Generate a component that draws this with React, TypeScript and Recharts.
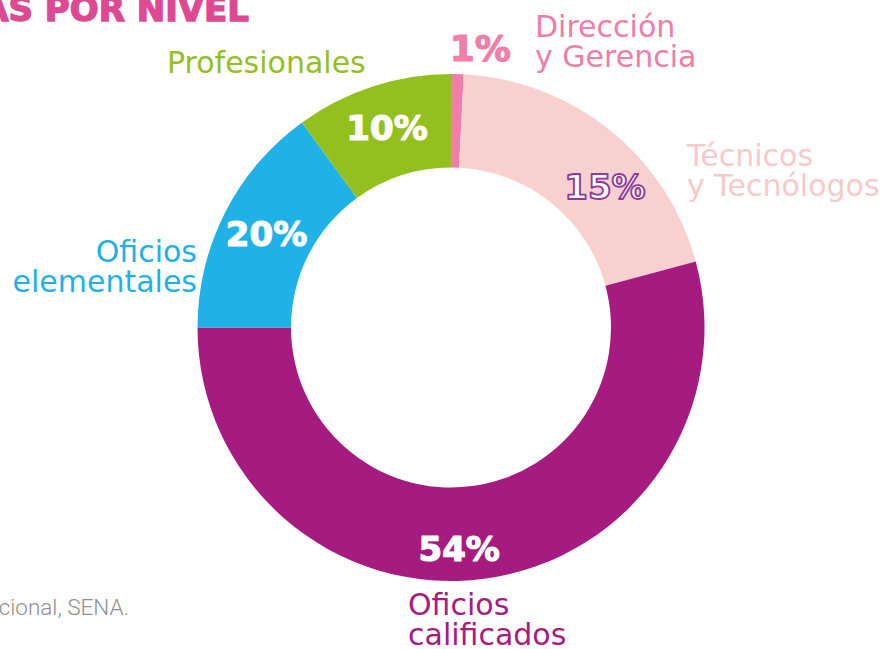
import { PieChart, Pie, Cell } from 'recharts'

// slice order: clockwise from 12 o'clock
const categories = ['Dirección y Gerencia', 'Técnicos y Tecnólogos', 'Oficios calificados', 'Oficios elementales', 'Profesionales']
// share of the ring as drawn in the source
const shares = [0.8, 20, 54.2, 15, 10]
// percentages as printed on the slices
const pctLabels = ['1%', '15%', '54%', '20%', '10%']
const colors = ['#EF7FA9', '#F8D0D0', '#A61B80', '#20B2E7', '#93C01F']

const data = categories.map((name, i) => ({ name, value: shares[i] }))

const CX = 451
const CY = 327.5
const PCT_FONT = '"DejaVu Sans", Inter, sans-serif'
const TXT_FONT = '"DejaVu Sans", "Open Sans", sans-serif'

// nudges from the mid-angle anchor, per slice
const PCT_NUDGE: [number, number][] = [
  [24, -72],
  [24, 21],
  [-19, 16],
  [0, 0],
  [0, -3],
]

const renderPct = (props: any) => {
  const { cx, cy, midAngle, index } = props
  const rad = (midAngle * Math.PI) / 180
  const r = 207
  const x = cx + r * Math.cos(rad) + PCT_NUDGE[index][0]
  const y = cy - r * Math.sin(rad) + PCT_NUDGE[index][1] + 12
  const outlined = index === 1
  const outside = index === 0
  const fill = outside ? colors[0] : '#fff'
  return (
    <text
      key={`pct-${index}`}
      x={x}
      y={y}
      textAnchor="middle"
      fontFamily={PCT_FONT}
      fontWeight={700}
      fontSize={outside ? 36 : 34}
      fill={fill}
      stroke={outlined ? '#8C3A9B' : fill}
      strokeWidth={outlined ? 1.8 : 1.2}
      strokeLinejoin="round"
    >
      {pctLabels[index]}
    </text>
  )
}

// category captions, two lines each
function Caption({ x, y, lines, color, anchor = 'start' }: {
  x: number
  y: number
  lines: string[]
  color: string
  anchor?: 'start' | 'end' | 'middle'
}) {
  return (
    <text x={x} y={y} fill={color} fontFamily={TXT_FONT} fontSize={30} textAnchor={anchor}>
      {lines.map((l, i) => (
        <tspan key={i} x={x} dy={i === 0 ? 0 : 30}>{l}</tspan>
      ))}
    </text>
  )
}

export default function App() {
  return (
    <div style={{ position: 'absolute', left: 0, top: 0, width: 889, height: 649, background: '#fff', overflow: 'hidden' }}>
      <PieChart width={889} height={649} margin={{ top: 0, right: 0, bottom: 0, left: 0 }} style={{ position: 'absolute', left: 0, top: 0 }}>
        <Pie
          data={data}
          dataKey="value"
          nameKey="name"
          cx={CX}
          cy={CY}
          innerRadius={160}
          outerRadius={253.5}
          startAngle={90}
          endAngle={-270}
          paddingAngle={0}
          stroke="none"
          label={renderPct}
          labelLine={false}
          isAnimationActive={false}
        >
          {data.map((d, i) => (
            <Cell key={d.name} fill={colors[i]} />
          ))}
        </Pie>
      </PieChart>

      <svg width={889} height={649} style={{ position: 'absolute', left: 0, top: 0, pointerEvents: 'none' }}>
        <text x={249} y={21} textAnchor="end" fontFamily={PCT_FONT} fontWeight={700} fontSize={34} fill="#DD4A93" stroke="#DD4A93" strokeWidth={1.4}>
          AS POR NIVEL
        </text>
        <Caption x={535} y={37} lines={['Dirección', 'y Gerencia']} color="#EE7DA8" />
        <Caption x={687} y={166} lines={['Técnicos', 'y Tecnólogos']} color="#F6CACB" />
        <Caption x={197} y={262} lines={['Oficios', 'elementales']} color="#1FB1E6" anchor="end" />
        <Caption x={167} y={73} lines={['Profesionales']} color="#93C01F" />
        <Caption x={408} y={615} lines={['Oficios', 'calificados']} color="#A61C80" />
        <text x={129} y={615} textAnchor="end" fontFamily={'Roboto, "Open Sans", sans-serif'} fontWeight={300} fontSize={22.5} fill="#8f8f8f">
          cional, SENA.
        </text>
      </svg>
    </div>
  )
}
